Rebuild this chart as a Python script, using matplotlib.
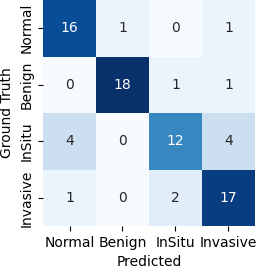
import numpy as np
import matplotlib
matplotlib.use("Agg")
from matplotlib import pyplot as plt
import seaborn as sns

classes = ["Normal", "Benign", "InSitu", "Invasive"]
cm = np.array([[16, 1, 0, 1],
               [0, 18, 1, 1],
               [4, 0, 12, 4],
               [1, 0, 2, 17]])

plt.rcParams['font.family'] = ['DejaVu Sans']
fig = plt.figure(figsize=(2.56, 2.66), dpi=100)
ax = fig.add_axes([0.168, 0.150, 0.828, 0.850])
sns.heatmap(cm, annot=True, fmt='d', cmap='Blues', cbar=False,
            xticklabels=classes, yticklabels=classes, ax=ax,
            annot_kws={'fontsize': 10})
ax.set_xlabel('Predicted', fontsize=10)
ax.set_ylabel('Ground Truth', fontsize=10)
ax.tick_params(labelsize=10)
plt.setp(ax.get_yticklabels(), rotation=90, va='center')
plt.setp(ax.get_xticklabels(), rotation=0)
fig.savefig('out.png', dpi=100)
